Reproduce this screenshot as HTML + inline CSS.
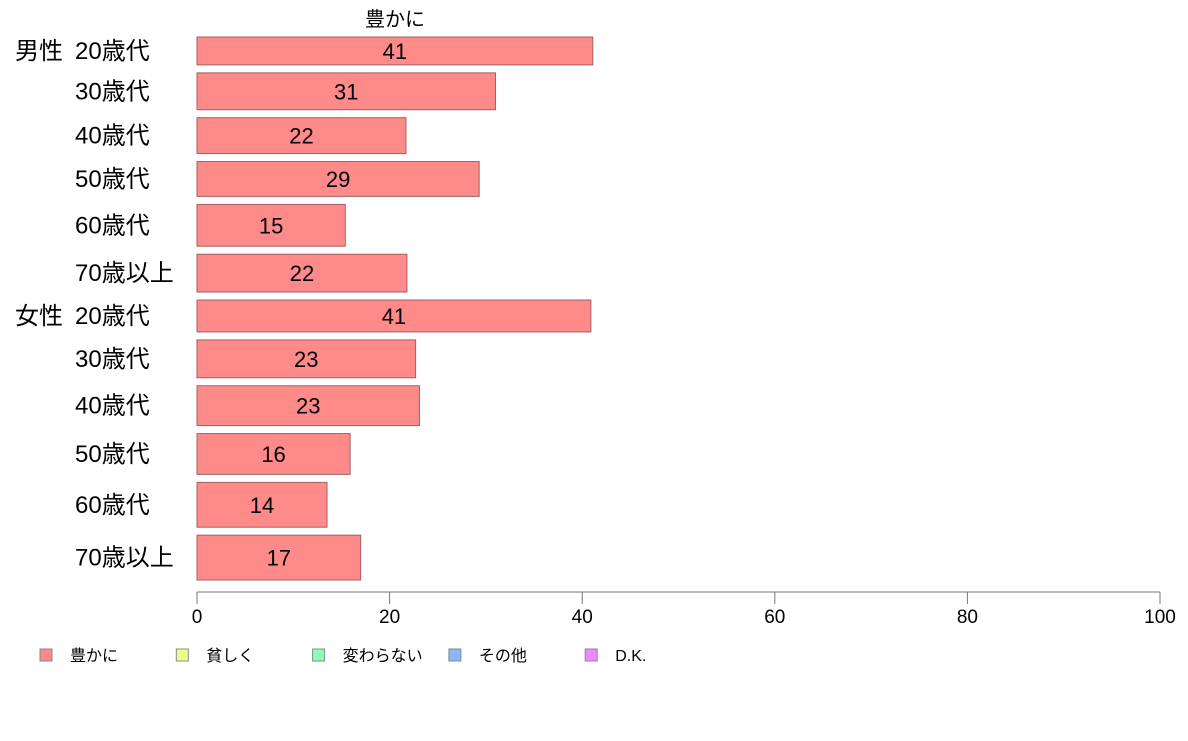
<!DOCTYPE html>
<html><head><meta charset="utf-8"><style>
body{margin:0;background:#fff;}
svg text{font-family:"Liberation Sans","Noto Sans CJK JP",sans-serif;}
</style></head><body>
<svg id="c" width="1188" height="736">
<text x="395" y="26" font-size="20" text-anchor="middle">豊かに</text>
<g id="bars"></g>
<g id="axis"></g>
<g id="legend"></g>
</svg>
<script>
const groups = ["男性","","","","","","女性","","","","",""];
const categories = ["20歳代","30歳代","40歳代","50歳代","60歳代","70歳以上","20歳代","30歳代","40歳代","50歳代","60歳代","70歳以上"];
const values = [41.1,31.0,21.7,29.3,15.4,21.8,40.9,22.7,23.1,15.9,13.5,17.0];
const labels = ["41","31","22","29","15","22","41","23","23","16","14","17"];
const weights = [28,37,36,35,42,38,32,38,40,41,45,45];
const ticks = [0,20,40,60,80,100];
const legendNames = ["豊かに","貧しく","変わらない","その他","D.K."];
const legendColors = ["#ff8888","#eeff88","#88ffb8","#88b8ff","#ee88ff"];

const NS="http://www.w3.org/2000/svg";
const x0=197,x1=1160;
const xs=v=>x0+(x1-x0)*v/100;
function mk(tag,attrs,parent){const e=document.createElementNS(NS,tag);for(const k in attrs)e.setAttribute(k,attrs[k]);parent.appendChild(e);return e;}
const bars=document.getElementById('bars');
const gap=8, top0=37, bottom=580;
const totalW=weights.reduce((a,b)=>a+b,0);
const scaleH=(bottom-top0-gap*(weights.length-1))/totalW;
let y=top0;
values.forEach((v,i)=>{
  const h=weights[i]*scaleH;
  const r=mk('rect',{x:x0,y:y,width:xs(v)-x0,height:h,fill:'#ff8a8a',stroke:'#a06060','stroke-width':1},bars);
  
  
  const cy=y+h/2;
  const t=mk('text',{x:(x0+xs(v))/2,y:cy+8,'font-size':22,'text-anchor':'middle'},bars);
  t.textContent=labels[i];
  
  
  const c=mk('text',{x:75,y:cy+8,'font-size':24},bars);
  c.textContent=categories[i];
  
  
  if(groups[i]){
    const g=mk('text',{x:15,y:cy+8,'font-size':24},bars);
    g.textContent=groups[i];
    
    
  }
  y+=h+gap;
});
const ax=document.getElementById('axis');
const l=mk('line',{x1:x0,x2:x1,y1:592,y2:592,stroke:'#777','stroke-width':1},ax);


ticks.forEach(t=>{
  const tl=mk('line',{x1:xs(t),x2:xs(t),y1:592,y2:604,stroke:'#777'},ax);
  
  
  const tt=mk('text',{x:xs(t),y:623,'font-size':19,'text-anchor':'middle'},ax);
  tt.textContent=t;
  
  
});
const lg=document.getElementById('legend');
legendNames.forEach((n,i)=>{
  const lx=40+i*136.3;
  const s=mk('rect',{x:lx,y:649,width:12,height:12,fill:legendColors[i],stroke:'#888'},lg);
  
  
  const t=mk('text',{x:lx+30,y:661,'font-size':16},lg);
  t.textContent=n;
  
  
});
</script>
</body></html>
